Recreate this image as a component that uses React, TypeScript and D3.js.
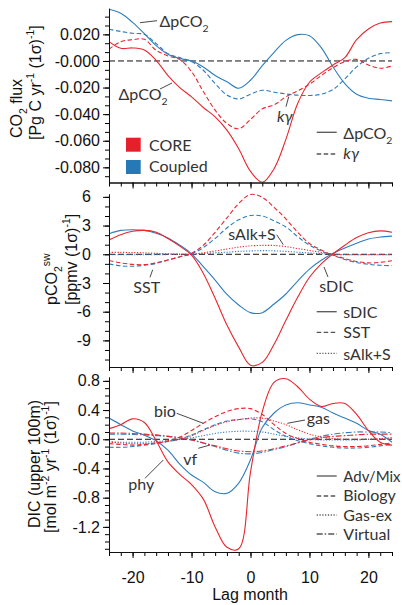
import React, { useEffect, useRef } from 'react';
import * as d3 from 'd3';

// lag axis (months)
const lags = [-24, -22, -20, -18, -16, -14, -12, -10, -8, -6, -4, -2, 0, 2, 4, 6, 8, 10, 12, 14, 16, 18, 20, 22, 24];
const lagTicks = [-20, -10, 0, 10, 20];
const lagTickLabels = ['-20', '-10', '0', '10', '20'];

// panel 1: CO2 flux
const coreFluxDpco2 = [0.0145, 0.0095, 0.0098, 0.0083, 0.0005, -0.011, -0.02, -0.027, -0.035, -0.042, -0.052, -0.066, -0.083, -0.0912, -0.081, -0.059, -0.032, -0.016, -0.009, -0.003, 0.0025, 0.016, 0.024, 0.0285, 0.0296];
const coreFluxKgamma = [0.0088, 0.0145, 0.016, 0.0163, 0.008, 0.0038, 0.001, -0.008, -0.023, -0.037, -0.047, -0.051, -0.044, -0.036, -0.033, -0.027, -0.0225, -0.0175, -0.011, -0.005, -0.0005, 0.0012, -0.003, -0.0055, -0.0038];
const coupledFluxDpco2 = [0.0389, 0.0359, 0.029, 0.0205, 0.0115, 0.005, 0.0018, 0.0, -0.0045, -0.011, -0.0156, -0.0205, -0.0145, -0.0035, 0.0065, 0.0155, 0.0198, 0.019, 0.01, -0.0045, -0.017, -0.025, -0.028, -0.029, -0.03];
const coupledFluxKgamma = [0.0238, 0.0222, 0.0208, 0.02, 0.013, 0.0055, 0.0025, -0.0005, -0.007, -0.017, -0.0256, -0.0285, -0.025, -0.022, -0.0235, -0.0248, -0.0257, -0.026, -0.025, -0.0215, -0.0135, -0.0045, 0.002, 0.0055, 0.0062];
const fluxTicks = [0.02, 0, -0.02, -0.04, -0.06, -0.08];
const fluxTickLabels = ['0.020', '-0.000', '-0.020', '-0.040', '-0.060', '-0.080'];

// panel 2: pCO2sw
const coreSdic = [1.5, 2.05, 2.4, 2.5, 2.3, 1.65, 0.85, -0.1, -2.0, -4.6, -7.4, -9.7, -11.6, -11.3, -9.4, -6.9, -4.5, -2.4, -1.0, 0.05, 0.95, 1.75, 2.25, 2.45, 2.3];
const coreSst = [-0.65, -0.9, -1.05, -1.08, -0.9, -0.6, -0.28, 0.1, 0.95, 2.3, 3.8, 5.3, 6.25, 5.95, 4.9, 3.7, 2.3, 1.12, 0.45, -0.08, -0.45, -0.75, -0.9, -0.85, -0.67];
const coreSalk = [0.2, 0.2, 0.18, 0.15, 0.1, 0.05, 0.02, 0.0, 0.15, 0.35, 0.55, 0.75, 0.88, 0.93, 0.92, 0.8, 0.6, 0.4, 0.2, 0.0, -0.05, -0.05, -0.05, -0.05, -0.05];
const coupledSdic = [2.15, 2.5, 2.57, 2.5, 2.2, 1.7, 0.95, 0.05, -1.3, -2.7, -4.2, -5.3, -6.1, -6.1, -5.2, -4.15, -2.8, -1.55, -0.63, 0.1, 0.65, 1.15, 1.6, 1.8, 1.9];
const coupledSst = [-1.0, -1.2, -1.25, -1.15, -0.95, -0.6, -0.25, 0.05, 0.7, 1.65, 2.75, 3.6, 4.05, 4.0, 3.5, 2.85, 1.85, 0.95, 0.35, -0.1, -0.55, -0.85, -1.05, -1.15, -1.2];
const coupledSalk = [-0.05, -0.05, -0.05, -0.05, -0.04, -0.03, -0.02, 0.0, 0.08, 0.15, 0.22, 0.3, 0.35, 0.38, 0.36, 0.3, 0.22, 0.14, 0.06, 0.0, -0.03, -0.05, -0.05, -0.05, -0.05];
const pco2Ticks = [6, 3, 0, -3, -6, -9];
const pco2TickLabels = ['6', '3', '0', '-3', '-6', '-9'];

// panel 3: DIC tendency terms
const coreAdv = [0.145, 0.2, 0.28, 0.23, -0.02, -0.31, -0.48, -0.62, -0.82, -1.2, -1.48, -1.5, -0.45, 0.38, 0.78, 0.83, 0.72, 0.55, 0.45, 0.49, 0.49, 0.34, 0.12, -0.04, -0.08];
const coreBio = [-0.06, -0.07, -0.08, -0.07, -0.05, -0.02, 0.03, 0.12, 0.22, 0.31, 0.38, 0.42, 0.42, 0.34, 0.2, 0.08, 0.01, -0.04, -0.07, -0.09, -0.1, -0.1, -0.09, -0.07, -0.05];
const coreGas = [-0.04, -0.05, -0.06, -0.06, -0.05, -0.03, 0.0, 0.05, 0.12, 0.19, 0.24, 0.27, 0.29, 0.29, 0.25, 0.2, 0.13, 0.07, 0.03, 0.01, 0.0, 0.0, 0.0, 0.01, 0.02];
const coreVirt = [0.085, 0.085, 0.08, 0.07, 0.06, 0.04, 0.02, -0.01, -0.05, -0.09, -0.13, -0.16, -0.17, -0.16, -0.13, -0.09, -0.05, -0.01, 0.02, 0.04, 0.05, 0.06, 0.07, 0.07, 0.07];
const coupledAdv = [0.29, 0.2, 0.115, 0.055, -0.02, -0.15, -0.34, -0.49, -0.59, -0.72, -0.74, -0.6, -0.28, 0.16, 0.36, 0.47, 0.5, 0.47, 0.44, 0.36, 0.29, 0.22, 0.12, 0.07, -0.04];
const coupledBio = [-0.11, -0.11, -0.1, -0.08, -0.06, -0.03, 0.0, 0.06, 0.13, 0.2, 0.25, 0.27, 0.28, 0.24, 0.13, 0.04, -0.02, -0.06, -0.09, -0.11, -0.12, -0.12, -0.11, -0.09, -0.07];
const coupledGas = [-0.03, -0.04, -0.04, -0.04, -0.03, -0.02, 0.0, 0.02, 0.05, 0.08, 0.1, 0.11, 0.11, 0.1, 0.07, 0.04, 0.02, 0.0, -0.01, -0.01, -0.01, -0.01, 0.0, 0.0, 0.0];
const coupledVirt = [0.07, 0.07, 0.065, 0.06, 0.05, 0.04, 0.02, -0.01, -0.05, -0.1, -0.15, -0.19, -0.2, -0.18, -0.14, -0.1, -0.05, 0.0, 0.04, 0.07, 0.09, 0.1, 0.1, 0.1, 0.09];
const dicTicks = [0.8, 0.4, 0, -0.4, -0.8, -1.2];
const dicTickLabels = ['0.8', '0.4', '0.0', '-0.4', '-0.8', '-1.2'];

const RED = '#e8262d';
const BLUE = '#2f7dbd';
const TXT = '#333';
const AXIS_FONT = '"Liberation Sans", Arial, sans-serif';
const NOTE_FONT = 'Lato, "Liberation Sans", sans-serif';
const NOTE_SIZE = 16;

const dashes = { solid: null, dashed: '4.5,2.5', dotted: '1.2,1.6', dashdot: '6,2,1.5,2' };

const X0 = 109;
const X1 = 392;

const panels = [
  {
    top: 8.3, bottom: 182.5, domain: [-0.0914, 0.0396], ticks: fluxTicks, labels: fluxTickLabels, minor: 0.02 / 3, pad: 3, showX: false,
    series: [
      { values: coupledFluxKgamma, color: BLUE, style: 'dashed' },
      { values: coupledFluxDpco2, color: BLUE, style: 'solid' },
      { values: coreFluxKgamma, color: RED, style: 'dashed' },
      { values: coreFluxDpco2, color: RED, style: 'solid' },
    ],
  },
  {
    top: 194, bottom: 367, domain: [-11.78, 6.3], ticks: pco2Ticks, labels: pco2TickLabels, minor: 1, pad: 12, showX: false,
    series: [
      { values: coupledSalk, color: BLUE, style: 'dotted' },
      { values: coupledSst, color: BLUE, style: 'dashed' },
      { values: coupledSdic, color: BLUE, style: 'solid' },
      { values: coreSalk, color: RED, style: 'dotted' },
      { values: coreSst, color: RED, style: 'dashed' },
      { values: coreSdic, color: RED, style: 'solid' },
    ],
  },
  {
    top: 377, bottom: 552, domain: [-1.544, 0.853], ticks: dicTicks, labels: dicTickLabels, minor: 0.1, pad: 3, showX: true,
    series: [
      { values: coupledVirt, color: BLUE, style: 'dashdot' },
      { values: coupledGas, color: BLUE, style: 'dotted' },
      { values: coupledBio, color: BLUE, style: 'dashed' },
      { values: coupledAdv, color: BLUE, style: 'solid' },
      { values: coreVirt, color: RED, style: 'dashdot' },
      { values: coreGas, color: RED, style: 'dotted' },
      { values: coreBio, color: RED, style: 'dashed' },
      { values: coreAdv, color: RED, style: 'solid' },
    ],
  },
];

type Part = { t: string; sub?: boolean; sup?: boolean; it?: boolean };

const Rich = ({ parts, size }: { parts: Part[]; size: number }) => {
  let shift = 0;
  return (
    <>
      {parts.map((p, i) => {
        const target = p.sub ? size * 0.3 : p.sup ? -size * 0.42 : 0;
        const dy = target - shift;
        shift = target;
        return (
          <tspan key={i} dy={dy} fontSize={p.sub || p.sup ? size * 0.65 : size} fontStyle={p.it ? 'italic' : undefined}>
            {p.t}
          </tspan>
        );
      })}
    </>
  );
};

const dpco2: Part[] = [{ t: 'ΔpCO' }, { t: '2', sub: true }];
const kgam: Part[] = [{ t: 'kγ', it: true }];

const Note = ({ x, y, parts, size }: { x: number; y: number; parts: Part[]; size?: number }) => (
  <text x={x} y={y} fill={TXT} fontFamily={NOTE_FONT} fontSize={size || NOTE_SIZE}>
    <Rich parts={parts} size={size || NOTE_SIZE} />
  </text>
);

const Lead = ({ x1, y1, x2, y2 }: { x1: number; y1: number; x2: number; y2: number }) => (
  <line x1={x1} y1={y1} x2={x2} y2={y2} stroke={TXT} strokeWidth={0.9} />
);

const LegLine = ({ y, style }: { y: number; style: string }) => (
  <line x1={316.7} x2={336.7} y1={y} y2={y} stroke="#555" strokeWidth={1.3} strokeDasharray={dashes[style] || undefined} />
);

const YTitle = ({ x, y, parts }: { x: number; y: number; parts: Part[] }) => (
  <text transform={`translate(${x},${y}) rotate(-90)`} fontFamily={AXIS_FONT} fontSize={16} fill="#111">
    <Rich parts={parts} size={16} />
  </text>
);

const App = () => {
  const gRef = useRef<SVGGElement>(null);

  useEffect(() => {
    const root = d3.select(gRef.current);
    root.selectAll('*').remove();

    const x = d3.scaleLinear().domain([-24, 24]).range([X0, X1]);

    panels.forEach((p, i) => {
      const y = d3.scaleLinear().domain(p.domain).range([p.bottom, p.top]);
      const g = root.append('g');
      const clipId = `clip-${i}`;
      g.append('clipPath')
        .attr('id', clipId)
        .append('rect')
        .attr('x', X0)
        .attr('y', p.top - 3)
        .attr('width', X1 - X0)
        .attr('height', p.bottom - p.top + 3);

      g.append('line')
        .attr('x1', X0)
        .attr('x2', X1)
        .attr('y1', y(0))
        .attr('y2', y(0))
        .attr('stroke', '#111')
        .attr('stroke-width', 1)
        .attr('stroke-dasharray', '6,3');

      const line = d3
        .line<number>()
        .x((d, j) => x(lags[j]))
        .y((d) => y(d))
        .curve(d3.curveCatmullRom.alpha(0.5));

      p.series.forEach((s) => {
        g.append('path')
          .attr('d', line(s.values))
          .attr('fill', 'none')
          .attr('stroke', s.color)
          .attr('stroke-width', 1.1)
          .attr('stroke-dasharray', dashes[s.style])
          .attr('clip-path', `url(#${clipId})`);
      });

      // minor y ticks
      const k0 = Math.ceil(p.domain[0] / p.minor - 1e-6);
      const k1 = Math.floor(p.domain[1] / p.minor + 1e-6);
      const minorY = d3.range(k0, k1 + 1).map((k) => k * p.minor);
      g.append('g')
        .attr('transform', `translate(${X0},0)`)
        .call(d3.axisLeft(y).tickValues(minorY).tickSize(4).tickSizeOuter(0).tickFormat(() => ''));

      const yAxis = g
        .append('g')
        .attr('transform', `translate(${X0},0)`)
        .call(
          d3
            .axisLeft(y)
            .tickValues(p.ticks)
            .tickSize(6)
            .tickSizeOuter(0)
            .tickPadding(p.pad)
            .tickFormat((d, j) => p.labels[j])
        );
      yAxis.selectAll('text').attr('font-family', AXIS_FONT).attr('font-size', 16).attr('fill', '#111');

      // x ticks
      const minorX = d3.range(-24, 25, 2);
      g.append('g')
        .attr('transform', `translate(0,${p.bottom})`)
        .call(d3.axisBottom(x).tickValues(minorX).tickSize(4).tickSizeOuter(0).tickFormat(() => ''));
      const xAxis = g
        .append('g')
        .attr('transform', `translate(0,${p.bottom})`)
        .call(
          d3
            .axisBottom(x)
            .tickValues(lagTicks)
            .tickSize(6)
            .tickSizeOuter(0)
            .tickPadding(14)
            .tickFormat((d, j) => (p.showX ? lagTickLabels[j] : ''))
        );
      xAxis.selectAll('text').attr('font-family', AXIS_FONT).attr('font-size', 16).attr('fill', '#111');
      g.selectAll('.domain').attr('stroke', '#111');
    });
  }, []);

  return (
    <svg width={402} height={605} style={{ position: 'absolute', left: 0, top: 0, background: '#fff' }}>
      <g ref={gRef} />

      {/* y titles */}
      <YTitle x={22} y={138} parts={[{ t: 'CO' }, { t: '2', sub: true }, { t: ' flux' }]} />
      <YTitle x={40.5} y={140} parts={[{ t: '[Pg C yr' }, { t: '-1', sup: true }, { t: ' (1σ)' }, { t: '-1', sup: true }, { t: ']' }]} />
      <YTitle x={57} y={305} parts={[{ t: 'pCO' }, { t: '2', sub: true }, { t: 'sw', sup: true }]} />
      <YTitle x={77} y={305} parts={[{ t: '[ppmv (1σ)' }, { t: '-1', sup: true }, { t: ']' }]} />
      <YTitle x={39.5} y={528} parts={[{ t: 'DIC (upper 100m)' }]} />
      <YTitle x={56} y={533} parts={[{ t: '[mol m' }, { t: '-2', sup: true }, { t: ' yr' }, { t: '-1', sup: true }, { t: ' (1σ)' }, { t: '-1', sup: true }, { t: ']' }]} />

      <text x={250} y={600} textAnchor="middle" fontFamily={AXIS_FONT} fontSize={16} fill="#111">Lag month</text>

      {/* panel 1 notes */}
      <Note x={159.5} y={26.7} parts={dpco2} />
      <Lead x1={140} y1={22.7} x2={157} y2={20.7} />
      <Note x={118.5} y={100} parts={dpco2} />
      <Lead x1={160} y1={89} x2={172} y2={83} />
      <Note x={277} y={122} parts={kgam} />
      <Lead x1={286} y1={106.7} x2={288.7} y2={96.7} />
      <rect x={126} y={137.7} width={14.7} height={14} fill="#e4202a" />
      <Note x={149} y={150.7} parts={[{ t: 'CORE' }]} />
      <rect x={126} y={160} width={14.7} height={14} fill="#2479b6" />
      <Note x={149} y={171.7} parts={[{ t: 'Coupled' }]} />
      <LegLine y={132.3} style="solid" />
      <Note x={343.3} y={139} parts={dpco2} />
      <LegLine y={154} style="dashed" />
      <Note x={343.3} y={158.5} parts={kgam} />

      {/* panel 2 notes */}
      <Note x={228.3} y={240} parts={[{ t: 'sAlk+S' }]} />
      <Lead x1={276.7} y1={234.7} x2={283.3} y2={244.7} />
      <Note x={133.3} y={293.3} parts={[{ t: 'SST' }]} />
      <Lead x1={150} y1={277.3} x2={152.7} y2={269.7} />
      <Note x={319.3} y={291.7} parts={[{ t: 'sDIC' }]} />
      <Lead x1={324} y1={267} x2={328} y2={277} />
      <LegLine y={311.7} style="solid" />
      <Note x={343.3} y={318} parts={[{ t: 'sDIC' }]} />
      <LegLine y={332.3} style="dashed" />
      <Note x={343.3} y={338.3} parts={[{ t: 'SST' }]} />
      <LegLine y={353.3} style="dotted" />
      <Note x={343.3} y={360} parts={[{ t: 'sAlk+S' }]} />

      {/* panel 3 notes */}
      <Note x={154} y={416.5} parts={[{ t: 'bio' }]} />
      <Lead x1={176.7} y1={413.3} x2={203.3} y2={423.3} />
      <Note x={306.7} y={424.3} parts={[{ t: 'gas' }]} />
      <Lead x1={287.3} y1={423.3} x2={305} y2={420} />
      <Note x={183.3} y={465} parts={[{ t: 'vf' }]} />
      <Lead x1={198.3} y1={448.3} x2={210} y2={445} />
      <Note x={128.3} y={490} parts={[{ t: 'phy' }]} />
      <Lead x1={145} y1={478.3} x2={163.3} y2={460} />
      <LegLine y={476} style="solid" />
      <Note x={343.3} y={481.7} parts={[{ t: 'Adv/Mix' }]} size={15} />
      <LegLine y={496} style="dashed" />
      <Note x={343.3} y={501} parts={[{ t: 'Biology' }]} />
      <LegLine y={515} style="dotted" />
      <Note x={343.3} y={520.5} parts={[{ t: 'Gas-ex' }]} />
      <LegLine y={534} style="dashdot" />
      <Note x={343.3} y={539.5} parts={[{ t: 'Virtual' }]} />
    </svg>
  );
};

export default App;
